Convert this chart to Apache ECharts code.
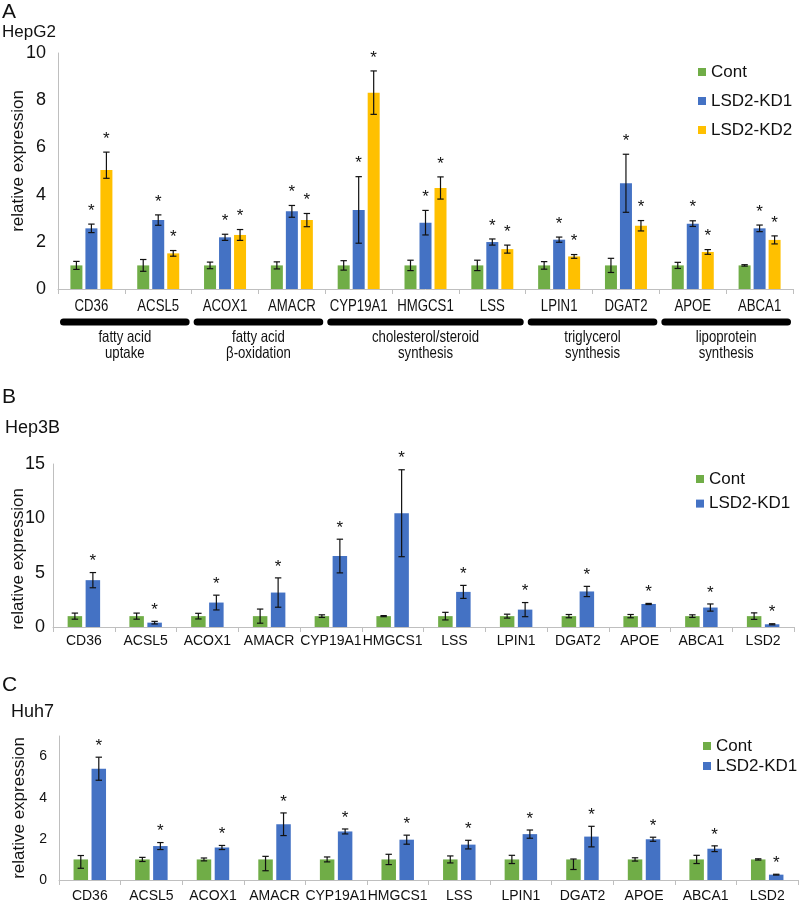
<!DOCTYPE html>
<html><head><meta charset="utf-8">
<script src="https://cdn.jsdelivr.net/npm/echarts@6/dist/echarts.min.js"></script>
<style>html,body{margin:0;padding:0;background:#fff}#c{width:800px;height:903px}</style>
</head><body><div id="c"></div>
<script>
// ---------- Panel A (HepG2) ----------
const catsA = ['CD36','ACSL5','ACOX1','AMACR','CYP19A1','HMGCS1','LSS','LPIN1','DGAT2','APOE','ABCA1'];
const aCont    = [1,1,1,1,1,1,1,1,1,1,1];
const aContErr = [0.17,0.25,0.14,0.15,0.2,0.22,0.22,0.16,0.3,0.13,0.03];
const aKd1     = [2.57,2.92,2.19,3.29,3.35,2.81,1.99,2.09,4.48,2.77,2.57];
const aKd1Err  = [0.18,0.22,0.13,0.25,1.41,0.52,0.13,0.11,1.23,0.12,0.14];
const aKd2     = [5.04,1.51,2.29,2.92,8.32,4.28,1.69,1.38,2.68,1.57,2.08];
const aKd2Err  = [[0.35,0.76],0.12,0.23,0.28,0.92,0.47,0.17,0.08,0.22,0.1,0.17];
const aTicks   = {min:0, max:10, interval:2};
const groupSpans  = [[0,1],[2,3],[4,6],[7,8],[9,10]];
const groupLabels = ['fatty acid\nuptake','fatty acid\n\u03b2-oxidation','cholesterol/steroid\nsynthesis','triglycerol\nsynthesis','lipoprotein\nsynthesis'];

// ---------- Panel B (Hep3B) ----------
const catsB = ['CD36','ACSL5','ACOX1','AMACR','CYP19A1','HMGCS1','LSS','LPIN1','DGAT2','APOE','ABCA1','LSD2'];
const bCont    = [1,1,1,1,1,1,1,1,1,1,1,1];
const bContErr = [0.28,0.28,0.26,0.65,0.12,0.05,0.35,0.18,0.15,0.15,0.12,0.3];
const bKd1     = [4.31,0.4,2.25,3.17,6.53,10.47,3.23,1.6,3.27,2.12,1.79,0.25];
const bKd1Err  = [0.7,0.12,0.68,1.35,1.55,4.0,0.6,0.65,0.47,0.05,0.33,0.05];
const bTicks   = {min:0, max:15, interval:5};

// ---------- Panel C (Huh7) ----------
const catsC = ['CD36','ACSL5','ACOX1','AMACR','CYP19A1','HMGCS1','LSS','LPIN1','DGAT2','APOE','ABCA1','LSD2'];
const cCont    = [1,1,1,1,1,1,1,1,1,1,1,1];
const cContErr = [[0.43,0.19],0.1,0.07,[0.55,0.15],0.12,0.25,0.17,0.2,[0.49,0.02],0.08,0.2,0.03];
const cKd1     = [5.41,1.65,1.58,2.71,2.36,1.96,1.72,2.23,2.11,1.98,1.52,0.26];
const cKd1Err  = [0.56,0.17,0.1,0.55,0.12,0.22,0.21,0.2,0.5,0.1,0.14,0.02];
const cTicks   = {min:0, max:7, interval:2};

const COLORS = {'Cont':'#70AD47','LSD2-KD1':'#4472C4','LSD2-KD2':'#FFC000'};
const AX = '#BFBFBF';
const SANS = '"Liberation Sans", Arial, sans-serif';
const NARROW_SCALE = 0.8;

function pair(e){ return Array.isArray(e) ? e : [e, e]; }

function errSeries(gi, vals, errs, idx, n, bw, gap, star, starOff){
  const data = vals.map((v,i)=>{ const p = pair(errs[i]); return [i, v, p[0], p[1]]; });
  return {
    type:'custom', xAxisIndex:gi, yAxisIndex:gi, clip:false, z:5, silent:true,
    data,
    renderItem(params, api){
      const ci = api.value(0), v = api.value(1), lo = api.value(2), hi = api.value(3);
      const c = api.coord([ci, v]);
      const x = c[0] + (idx - (n-1)/2) * (bw + gap);
      const yLo = api.coord([ci, v - lo])[1];
      const yHi = api.coord([ci, v + hi])[1];
      const cap = 3.2;
      const st = {stroke:'#111', lineWidth:1.2};
      const ch = [
        {type:'line', shape:{x1:x, y1:yLo, x2:x, y2:yHi}, style:st},
        {type:'line', shape:{x1:x-cap, y1:yHi, x2:x+cap, y2:yHi}, style:st},
        {type:'line', shape:{x1:x-cap, y1:yLo, x2:x+cap, y2:yLo}, style:st}
      ];
      if (star) ch.push({type:'text', x:x, y:yHi - starOff,
        style:{text:'*', fill:'#111', font:'17px '+SANS, align:'center', verticalAlign:'middle'}});
      return {type:'group', children:ch};
    }
  };
}

function barSeries(gi, name, vals, bw, gapPct){
  return {type:'bar', name, xAxisIndex:gi, yAxisIndex:gi, data:vals, barWidth:bw, barGap:gapPct,
    itemStyle:{color:COLORS[name]}, emphasis:{disabled:true}};
}

function xAxis(gi, cats, fontSize, margin, showLabel){
  return {type:'category', gridIndex:gi, data:cats,
    axisLine:{lineStyle:{color:AX, width:1}},
    axisTick:{show:true, length:5, lineStyle:{color:AX}},
    axisLabel:{show:showLabel, interval:0, color:'#111', fontSize, fontFamily:SANS, margin},
    splitLine:{show:false}};
}
function yAxis(gi, t, fontSize, margin, showMax){
  return {type:'value', gridIndex:gi, min:t.min, max:t.max, interval:t.interval,
    axisLine:{show:true, lineStyle:{color:AX, width:1}},
    axisTick:{show:false},
    axisLabel:{color:'#111', fontSize, fontFamily:SANS, margin, showMaxLabel:showMax},
    splitLine:{show:false}};
}

const series = [
  barSeries(0,'Cont',aCont,12,'25%'),
  barSeries(0,'LSD2-KD1',aKd1,12,'25%'),
  barSeries(0,'LSD2-KD2',aKd2,12,'25%'),
  errSeries(0,aCont,aContErr,0,3,12,3,false,13),
  errSeries(0,aKd1,aKd1Err,1,3,12,3,true,13),
  errSeries(0,aKd2,aKd2Err,2,3,12,3,true,13),
  // condensed category labels for panel A
  {
    type:'custom', xAxisIndex:0, yAxisIndex:0, clip:false, silent:true, z:5,
    data: catsA.map((c,i)=>[i]),
    renderItem(params, api){
      const p = api.coord([api.value(0), 0]);
      return {type:'text', x:p[0], y:p[1] + 17, scaleX:NARROW_SCALE,
        style:{text:catsA[params.dataIndex], fill:'#111', font:'16.5px '+SANS, align:'center', verticalAlign:'middle'}};
    }
  },
  // functional group bars and labels for panel A
  {
    type:'custom', xAxisIndex:0, yAxisIndex:0, clip:false, silent:true, z:5,
    data: groupSpans,
    renderItem(params, api){
      const s = api.value(0), e = api.value(1);
      const bwid = api.size([1,0])[0];
      const p0 = api.coord([s,0]);
      const x0 = p0[0] - bwid/2 + 5.5;
      const x1 = api.coord([e,0])[0] + bwid/2 - 5.5;
      const y0 = p0[1] + 33;
      return {type:'group', children:[
        {type:'line', shape:{x1:x0, y1:y0, x2:x1, y2:y0}, style:{stroke:'#000', lineWidth:7, lineCap:'round'}},
        {type:'text', x:(x0+x1)/2, y:y0 + 23, scaleX:NARROW_SCALE, style:{text:groupLabels[params.dataIndex], fill:'#111',
          font:'16.5px '+SANS, lineHeight:16, align:'center', verticalAlign:'middle'}}
      ]};
    }
  },
  barSeries(1,'Cont',bCont,14.5,'24%'),
  barSeries(1,'LSD2-KD1',bKd1,14.5,'24%'),
  errSeries(1,bCont,bContErr,0,2,14.5,3.5,false,11),
  errSeries(1,bKd1,bKd1Err,1,2,14.5,3.5,true,11),
  barSeries(2,'Cont',cCont,14.5,'24%'),
  barSeries(2,'LSD2-KD1',cKd1,14.5,'24%'),
  errSeries(2,cCont,cContErr,0,2,14.5,3.5,false,11),
  errSeries(2,cKd1,cKd1Err,1,2,14.5,3.5,true,11)
];

function legend(names, left, top, gap){
  return {data:names, orient:'vertical', left, top, padding:0, itemGap:gap, icon:'rect',
    itemWidth:8, itemHeight:8, selectedMode:false,
    textStyle:{fontSize:17, fontFamily:SANS, color:'#111', lineHeight:20}};
}
function label(text, x, y, size){
  return {type:'text', left:x, top:y, style:{text, fill:'#111', font:size+'px '+SANS}};
}
function yName(x, y){
  return {type:'text', x, y, rotation:Math.PI/2, silent:true,
    style:{text:'relative expression', fill:'#111', font:'17px '+SANS, align:'center', verticalAlign:'middle'}};
}

const chart = echarts.init(document.getElementById('c'), null, {renderer:'canvas'});
chart.setOption({
  animation:false,
  backgroundColor:'#fff',
  grid:[
    {left:58, right:7, top:53, bottom:614},
    {left:53, right:6, top:464, bottom:276},
    {left:59, right:2, top:736, bottom:21}
  ],
  xAxis:[ xAxis(0,catsA,16,8,false), xAxis(1,catsB,14,7,true), xAxis(2,catsC,14,9,true) ],
  yAxis:[ yAxis(0,aTicks,18,12,true), yAxis(1,bTicks,18,8,true), yAxis(2,cTicks,14,12,false) ],
  legend:[
    legend(['Cont','LSD2-KD1','LSD2-KD2'],698,62,9),
    legend(['Cont','LSD2-KD1'],696,469,4.6),
    legend(['Cont','LSD2-KD1'],703,736,0)
  ],
  graphic:[
    label('A',2,2,21), label('HepG2',2,24,17),
    label('B',2,387,21), label('Hep3B',5,419,18),
    label('C',2,675,21), label('Huh7',11,703,18),
    yName(18,161), yName(18,559), yName(19,808)
  ],
  series
});
</script></body></html>
